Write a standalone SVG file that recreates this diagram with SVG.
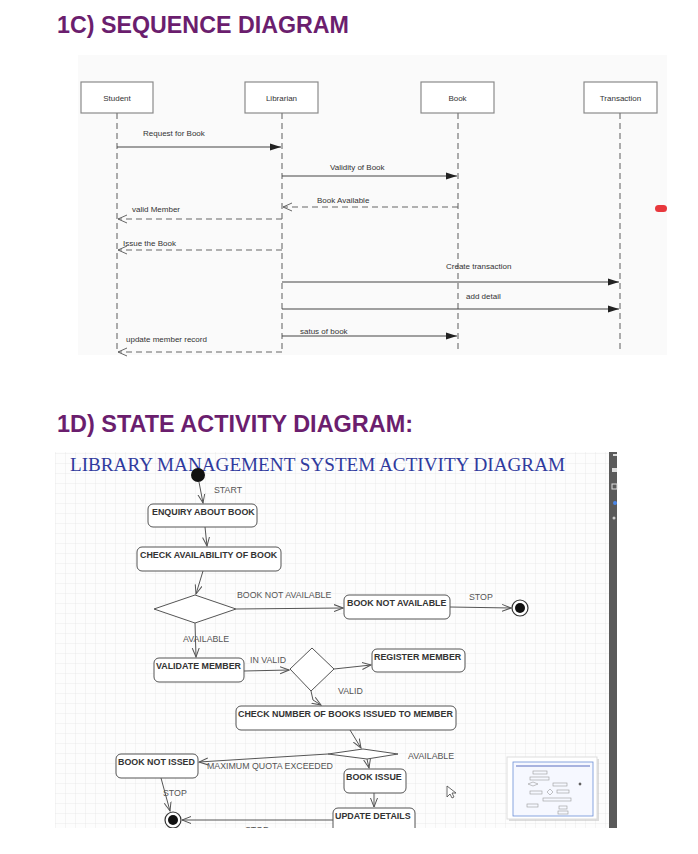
<svg xmlns="http://www.w3.org/2000/svg" width="698" height="854" viewBox="0 0 698 854">
<style>
.h{font-family:"Liberation Sans",Arial,sans-serif;font-weight:bold;fill:#6B1E6E}
.sl{font-family:"Liberation Sans",Arial,sans-serif;font-size:8px;fill:#333}
.sbox{fill:#fff;stroke:#8a8a8a;stroke-width:1.2}
.life{stroke:#777;stroke-width:1.2;stroke-dasharray:6 4;fill:none}
.msg{stroke:#444;stroke-width:1.1;fill:none}
.ret{stroke:#666;stroke-width:1.1;fill:none;stroke-dasharray:6 4}
.abox{fill:#fff;stroke:#555;stroke-width:1}
.at{font-family:"Liberation Sans",Arial,sans-serif;font-size:8.9px;font-weight:bold;fill:#333}
.al{font-family:"Liberation Sans",Arial,sans-serif;font-size:8.8px;fill:#555}
.ac{stroke:#555;stroke-width:1;fill:none}
</style>
<defs>
<marker id="mFill" markerUnits="userSpaceOnUse" markerWidth="12" markerHeight="8" refX="11" refY="4" orient="auto"><path d="M0,0.5 L11,4 L0,7.5 z" fill="#222"/></marker>
<marker id="mOpen" markerUnits="userSpaceOnUse" markerWidth="10" markerHeight="10" refX="9" refY="5" orient="auto"><path d="M0,1 L9,5 L0,9" fill="none" stroke="#666" stroke-width="1"/></marker>
<marker id="aOpen" markerUnits="userSpaceOnUse" markerWidth="10" markerHeight="10" refX="9" refY="5" orient="auto"><path d="M0,1.5 L9,5 L0,8.5" fill="none" stroke="#555" stroke-width="1"/></marker>
<pattern id="grid" width="10" height="10" patternUnits="userSpaceOnUse" x="55" y="453"><path d="M10,0 H0 V10" fill="none" stroke="#e6e6e6" stroke-width="0.8"/></pattern>
<clipPath id="panelClip"><rect x="55" y="452" width="554" height="376"/></clipPath>
</defs>
<rect width="698" height="854" fill="#fff"/>

<text class="h" x="57" y="33" font-size="23" textLength="292" lengthAdjust="spacingAndGlyphs">1C) SEQUENCE DIAGRAM</text>

<g id="sequence">
<rect x="78" y="55" width="589" height="300" fill="#fafafa"/>
<g id="student"><rect class="sbox" x="81" y="82" width="72" height="31"/><text class="sl" x="117" y="101" text-anchor="middle">Student</text><line class="life" x1="117" y1="113" x2="117" y2="353"/></g>
<g id="librarian"><rect class="sbox" x="245" y="82" width="73" height="31"/><text class="sl" x="281.5" y="101" text-anchor="middle">Librarian</text><line class="life" x1="282" y1="113" x2="282" y2="353"/></g>
<g id="book"><rect class="sbox" x="421" y="82" width="73" height="31"/><text class="sl" x="457.5" y="101" text-anchor="middle">Book</text><line class="life" x1="458" y1="113" x2="458" y2="353"/></g>
<g id="transaction"><rect class="sbox" x="584" y="82" width="73" height="31"/><text class="sl" x="620.5" y="101" text-anchor="middle">Transaction</text><line class="life" x1="620" y1="113" x2="620" y2="353"/></g>
<g id="messages">
<path class="msg" d="M117,147 H281" marker-end="url(#mFill)"/>
<path class="msg" d="M282,176 H457" marker-end="url(#mFill)"/>
<path class="ret" d="M458,207 H283" marker-end="url(#mOpen)"/>
<path class="ret" d="M282,219 H118" marker-end="url(#mOpen)"/>
<path class="ret" d="M282,250 H118" marker-end="url(#mOpen)"/>
<path class="msg" d="M282,282 H619" marker-end="url(#mFill)"/>
<path class="msg" d="M282,309 H619" marker-end="url(#mFill)"/>
<path class="msg" d="M282,336 H457" marker-end="url(#mFill)"/>
<path class="ret" d="M282,352 H118" marker-end="url(#mOpen)"/>
<text class="sl" x="143" y="136">Request for Book</text>
<text class="sl" x="330" y="170">Validity of Book</text>
<text class="sl" x="317" y="203">Book Available</text>
<text class="sl" x="132" y="212">valid Member</text>
<text class="sl" x="123" y="246">Issue the Book</text>
<text class="sl" x="446" y="269">Create transaction</text>
<text class="sl" x="466" y="299">add detail</text>
<text class="sl" x="300" y="334">satus of book</text>
<text class="sl" x="126" y="342">update member record</text>
</g>
<rect x="655" y="205" width="12" height="7" rx="3.5" fill="#e8383d"/>
</g>

<text class="h" x="57" y="432" font-size="23" textLength="356" lengthAdjust="spacingAndGlyphs">1D) STATE ACTIVITY DIAGRAM:</text>

<g id="activity" clip-path="url(#panelClip)">
<rect x="55" y="452" width="554" height="376" fill="#fdfdfd"/>
<rect x="55" y="452" width="554" height="376" fill="url(#grid)"/>
<text x="70" y="471" font-family="'Liberation Serif','Times New Roman',serif" font-size="18" fill="#2f3a9e" textLength="495" lengthAdjust="spacingAndGlyphs">LIBRARY MANAGEMENT SYSTEM ACTIVITY DIAGRAM</text>

<g id="connectors">
<path class="ac" d="M199,482 L203,503" marker-end="url(#aOpen)"/>
<path class="ac" d="M205,527 L207,546" marker-end="url(#aOpen)"/>
<path class="ac" d="M203,571 L196,594" marker-end="url(#aOpen)"/>
<path class="ac" d="M236,609 L343,608" marker-end="url(#aOpen)"/>
<path class="ac" d="M450,607 L511,608" marker-end="url(#aOpen)"/>
<path class="ac" d="M195,623 L196,657" marker-end="url(#aOpen)"/>
<path class="ac" d="M244,671 L289,670" marker-end="url(#aOpen)"/>
<path class="ac" d="M334,669 L371,665" marker-end="url(#aOpen)"/>
<path class="ac" d="M311,691 L313,700 L321,705" marker-end="url(#aOpen)"/>
<path class="ac" d="M350,730 L361,748" marker-end="url(#aOpen)"/>
<path class="ac" d="M367,759 L369,768" marker-end="url(#aOpen)"/>
<path class="ac" d="M374,793 L374,807" marker-end="url(#aOpen)"/>
<path class="ac" d="M328,754 L199,762" marker-end="url(#aOpen)"/>
<path class="ac" d="M161,778 L170,811" marker-end="url(#aOpen)"/>
<path class="ac" d="M333,820 L182,820" marker-end="url(#aOpen)"/>
<text class="al" x="214" y="493">START</text>
<text class="al" x="237" y="598">BOOK NOT AVAILABLE</text>
<text class="al" x="469" y="600">STOP</text>
<text class="al" x="183" y="642">AVAILABLE</text>
<text class="al" x="250" y="663">IN VALID</text>
<text class="al" x="338" y="694">VALID</text>
<text class="al" x="408" y="759">AVAILABLE</text>
<text class="al" x="207" y="769">MAXIMUM QUOTA EXCEEDED</text>
<text class="al" x="163" y="796">STOP</text>
<text class="al" x="245" y="833">STOP</text>
</g>

<g id="start"><circle cx="198" cy="475" r="7" fill="#111"/></g>
<g id="enquiry"><rect class="abox" x="148" y="504" width="109" height="23" rx="5"/><text class="at" x="152" y="514.5">ENQUIRY ABOUT BOOK</text></g>
<g id="check-availability"><rect class="abox" x="137" y="547" width="144" height="24" rx="5"/><text class="at" x="140" y="557.5">CHECK AVAILABILITY OF BOOK</text></g>
<g id="decision-available"><polygon class="abox" points="154,609 195,595 236,609 195,623"/></g>
<g id="book-not-available"><rect class="abox" x="344" y="595" width="106" height="24" rx="5"/><text class="at" x="347" y="605.5">BOOK NOT AVAILABLE</text></g>
<g id="end1"><circle cx="520" cy="608" r="8" fill="#fff" stroke="#333" stroke-width="1.2"/><circle cx="520" cy="608" r="5" fill="#111"/></g>
<g id="validate-member"><rect class="abox" x="154" y="658" width="90" height="24" rx="5"/><text class="at" x="156" y="668.5">VALIDATE MEMBER</text></g>
<g id="decision-valid"><polygon class="abox" points="290,669 312,648 334,669 311,691"/></g>
<g id="register-member"><rect class="abox" x="372" y="649" width="93" height="23" rx="5"/><text class="at" x="374" y="659.5">REGISTER MEMBER</text></g>
<g id="check-number"><rect class="abox" x="236" y="706" width="220" height="24" rx="5"/><text class="at" x="238" y="716.5">CHECK NUMBER OF BOOKS ISSUED TO MEMBER</text></g>
<g id="decision-quota"><polygon class="abox" points="328,754 363,749 398,754 367,759"/></g>
<g id="book-issue"><rect class="abox" x="344" y="769" width="62" height="24" rx="5"/><text class="at" x="346" y="779.5">BOOK ISSUE</text></g>
<g id="update-details"><rect class="abox" x="333" y="808" width="82" height="30" rx="5"/><text class="at" x="335" y="818.5">UPDATE DETAILS</text></g>
<g id="book-not-issued"><rect class="abox" x="116" y="754" width="82" height="24" rx="5"/><text class="at" x="118" y="764.5">BOOK NOT ISSED</text></g>
<g id="end2"><circle cx="173" cy="820" r="8" fill="#fff" stroke="#333" stroke-width="1.2"/><circle cx="173" cy="820" r="5" fill="#111"/></g>

<g id="thumbnail">
<rect x="509" y="759" width="90" height="62" fill="#bbb" opacity="0.5"/>
<rect x="507" y="757" width="90" height="62" fill="#fff" stroke="#ddd"/>
<rect x="513" y="762" width="80" height="54" fill="#f6f8ff" stroke="#6d8fd6" stroke-width="0.8"/>
<line x1="516" y1="766" x2="590" y2="766" stroke="#5a6fc0" stroke-width="1.2"/>
<g fill="none" stroke="#999" stroke-width="0.6">
<rect x="533" y="771" width="14" height="3"/><rect x="530" y="777" width="19" height="3"/>
<polygon points="528,784 533,782 538,784 533,786"/><rect x="553" y="783" width="14" height="3"/>
<circle cx="580" cy="784" r="1.2" fill="#333"/><rect x="530" y="791" width="12" height="3"/>
<polygon points="547,792 550,789 553,792 550,795"/><rect x="557" y="790" width="12" height="3"/>
<rect x="543" y="798" width="28" height="3"/><rect x="559" y="806" width="8" height="3"/>
<rect x="527" y="804" width="11" height="3"/><rect x="558" y="811" width="10" height="3"/>
</g>
</g>
<g id="cursor"><path d="M447,786 L447,797 L450,794 L452,798 L454,797 L452,793 L456,793 Z" fill="#fff" stroke="#444" stroke-width="0.8"/></g>
</g>

<g id="sidebar">
<rect x="609" y="452" width="8" height="376" fill="#5a5a5a"/>
<rect x="613" y="454" width="4" height="2" fill="#ddd"/>
<rect x="612" y="468" width="5" height="4" fill="#ddd"/>
<rect x="612" y="484" width="5" height="5" fill="none" stroke="#ddd"/>
<circle cx="615" cy="503" r="2" fill="#4a86e8"/>
<circle cx="614" cy="518" r="1.5" fill="#ccc"/>
</g>
</svg>
